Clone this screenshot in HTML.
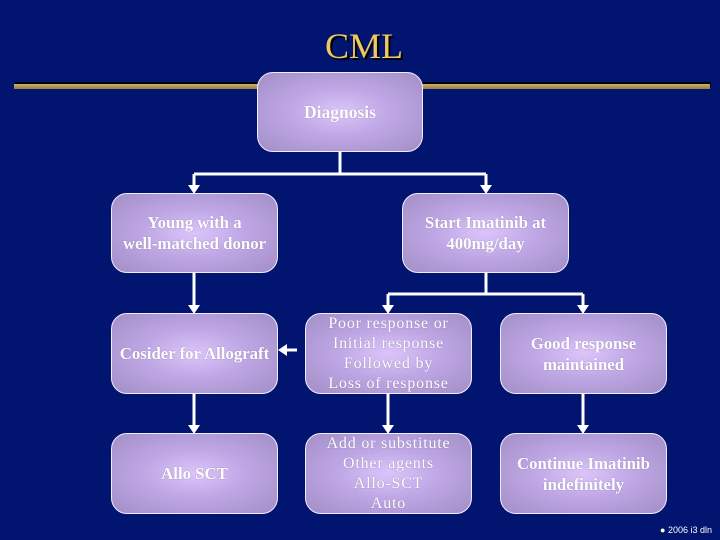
<!DOCTYPE html>
<html><head><meta charset="utf-8"><style>
html,body{margin:0;padding:0}
body{width:720px;height:540px;background:#001470;position:relative;overflow:hidden;font-family:"Liberation Serif",serif}
.t{position:absolute;left:4px;width:720px;top:25px;text-align:center;color:#f0c860;font-size:36px;text-shadow:2px 2px 0 #000}
.bar{position:absolute;left:14px;width:696px;top:84px;height:5px;background:linear-gradient(#c8b070,#9a8040);box-shadow:1px -2px 0 #000}
.b{position:absolute;box-sizing:border-box;border:1.5px solid #f0ecff;border-radius:16px;background:radial-gradient(ellipse at 50% 50%,#dcc4fa 0%,#bea6e4 45%,#a28ec6 100%);color:#fff;font-weight:bold;font-size:16.8px;line-height:21px;display:flex;align-items:center;justify-content:center;text-align:center;text-shadow:0 0 1px #8070a0;white-space:nowrap}
.n{font-weight:normal;font-size:16px;line-height:20px;letter-spacing:0.8px}
.c{position:absolute;right:8px;bottom:5px;color:#fff;font-family:"Liberation Sans",sans-serif;font-size:9px}
</style></head><body>
<div class="t">CML</div>
<div class="bar"></div>
<svg width="720" height="540" style="position:absolute;left:0;top:0">
<g stroke="#fff" stroke-width="3" fill="none">
<path d="M340 151V174M194 174H486M194 174V186M486 174V186"/>
<path d="M194 272V306M194 393V426"/>
<path d="M486 272V294M388 294H583M388 294V306M583 294V306"/>
<path d="M388 393V426M583 393V426"/>
<path d="M297 350H285"/>
</g>
<g fill="#fff">
<path d="M188 185H200L194 194Z M480 185H492L486 194Z"/>
<path d="M188 305H200L194 314Z M382 305H394L388 314Z M577 305H589L583 314Z"/>
<path d="M188 425H200L194 434Z M382 425H394L388 434Z M577 425H589L583 434Z"/>
<path d="M287 344V356L278 350Z"/>
</g>
</svg>
<div class="b" style="left:257px;top:72px;width:166px;height:80px;font-size:17.5px">Diagnosis</div>
<div class="b" style="left:111px;top:193px;width:167px;height:80px">Young with a<br>well-matched donor</div>
<div class="b" style="left:402px;top:193px;width:167px;height:80px">Start Imatinib at<br>400mg/day</div>
<div class="b" style="left:111px;top:313px;width:167px;height:81px">Cosider for Allograft</div>
<div class="b n" style="left:305px;top:313px;width:167px;height:81px">Poor response or<br>Initial response<br>Followed by<br>Loss of response</div>
<div class="b" style="left:500px;top:313px;width:167px;height:81px">Good response<br>maintained</div>
<div class="b" style="left:111px;top:433px;width:167px;height:81px">Allo SCT</div>
<div class="b n" style="left:305px;top:433px;width:167px;height:81px">Add or substitute<br>Other agents<br>Allo-SCT<br>Auto</div>
<div class="b" style="left:500px;top:433px;width:167px;height:81px">Continue Imatinib<br>indefinitely</div>
<div class="c">● 2006 i3 dln</div>
</body></html>
